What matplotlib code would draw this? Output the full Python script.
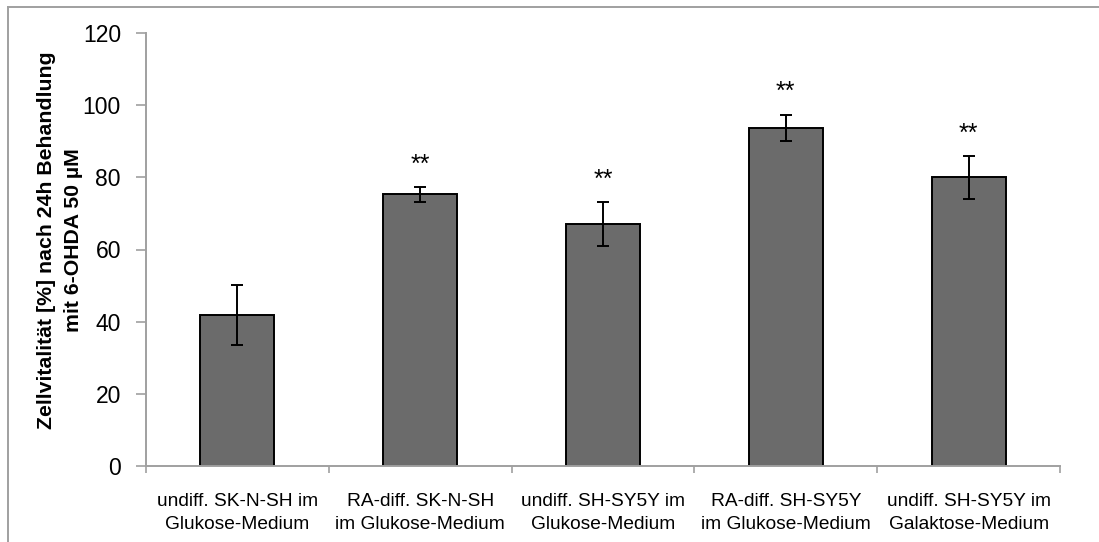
import matplotlib
matplotlib.use("Agg")
import matplotlib.pyplot as plt
from matplotlib.lines import Line2D
import numpy as np

plt.rcParams['font.family'] = ['Liberation Sans', 'DejaVu Sans']

categories = ["undiff. SK-N-SH im\nGlukose-Medium",
              "RA-diff. SK-N-SH\nim Glukose-Medium",
              "undiff. SH-SY5Y im\nGlukose-Medium",
              "RA-diff. SH-SY5Y\nim Glukose-Medium",
              "undiff. SH-SY5Y im\nGalaktose-Medium"]
values = [41.8, 75.3, 67.1, 93.8, 80.0]
errors = [8.4, 2.1, 6.1, 3.6, 5.9]
stars = ["", "**", "**", "**", "**"]
yticks = [0, 20, 40, 60, 80, 100, 120]
ylabel = "Zellvitalität [%] nach 24h Behandlung\nmit 6-OHDA 50 µM"

W, H = 1099, 542
fig = plt.figure(figsize=(W / 100, H / 100), dpi=100)
ax = fig.add_axes([146 / W, (H - 466) / H, 914 / W, (466 - 33) / H])

x = np.arange(len(categories))
ax.bar(x, values, width=0.405, color='#6b6b6b', edgecolor='black', linewidth=1.4, zorder=2)
ax.errorbar(x, values, yerr=errors, fmt='none', ecolor='black', elinewidth=1.4,
            capsize=4, capthick=1.4, zorder=3)
for xi, v, e, s in zip(x, values, errors, stars):
    if s:
        ax.annotate(s, (xi, v + e), xytext=(0, 16), textcoords='offset points',
                    ha='center', va='center', fontsize=18)

ax.set_xlim(-0.5, len(categories) - 0.5)
ax.set_ylim(0, 120)
ax.set_yticks(yticks)
ax.set_yticklabels([str(t) for t in yticks], fontsize=16.5)
ax.set_xticks(x)
ax.set_xticklabels(categories, fontsize=13.8, linespacing=1.45)
ax.set_xticks(np.arange(len(categories) + 1) - 0.5, minor=True)
ax.tick_params(axis='x', which='major', length=0, pad=19.5)
ax.tick_params(axis='x', which='minor', length=5, color='#a0a0a0', width=1.2, direction='out')
ax.tick_params(axis='y', length=7, color='#a0a0a0', width=1.2, pad=11)

for side in ['top', 'right']:
    ax.spines[side].set_visible(False)
for side in ['left', 'bottom']:
    ax.spines[side].set_color('#a0a0a0')
    ax.spines[side].set_linewidth(1.4)

ax.set_ylabel(ylabel, fontsize=15.3, fontweight='bold', linespacing=1.5)
ax.yaxis.set_label_coords(-(146 - 83) / 914, 0.5 + 9 / 433)

# outer frame (left and top edges visible)
fig.add_artist(Line2D([8 / W, 8 / W], [0, 1 - 7 / H], transform=fig.transFigure,
                      color='#a0a0a0', linewidth=1.4))
fig.add_artist(Line2D([8 / W, 1], [1 - 7 / H, 1 - 7 / H], transform=fig.transFigure,
                      color='#a0a0a0', linewidth=1.4))

fig.savefig("out.png", dpi=100)
